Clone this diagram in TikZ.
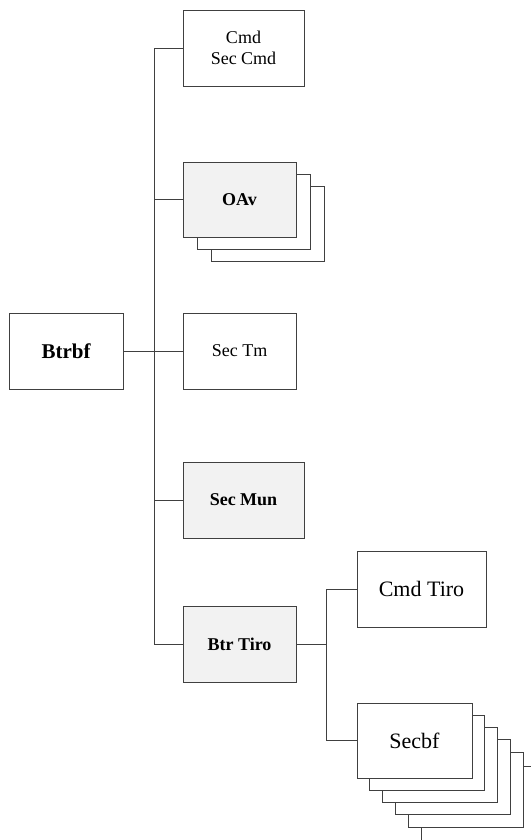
\documentclass[tikz,border=0pt]{standalone}
\usepackage{fontspec}
\setmainfont{Liberation Serif}
\usepackage{tikz}
\definecolor{boxgray}{HTML}{F2F2F2}
\definecolor{linegray}{HTML}{404040}

\begin{document}
\begin{tikzpicture}[x=1pt,y=-1pt,
    unit/.style={draw=linegray, fill=white, line width=0.9pt, inner sep=0pt, outer sep=0pt,
                 minimum width=113pt, minimum height=76pt, align=center,
                 font=\fontsize{18}{21}\selectfont},
    staff/.style={unit, fill=boxgray, font=\fontsize{18}{21}\selectfont\bfseries},
    wire/.style={draw=linegray, line width=0.9pt}]

  \useasboundingbox (0,0) rectangle (531,840);

  % ================= column 1: the head =================
  \node[unit, minimum width=114pt, font=\fontsize{21}{24}\selectfont\bfseries] (root) at (66,351) {Btrbf};

  % ================= column 2: the sections =================
  \node[unit, minimum width=121pt] (cmd) at (243.5,48) {Cmd\\Sec Cmd};

  % ---- OAv: stack of three ----
  \foreach \k in {2,1}
    \node[unit, minimum height=75pt] (oav\k) at (239.5+14*\k,199.5+12*\k) {};
  \node[staff, minimum height=75pt] (oav) at (239.5,199.5) {OAv};

  \node[unit] (sectm) at (239.5,351) {Sec Tm};
  \node[staff, minimum width=121pt] (secmun) at (243.5,500) {Sec Mun};
  \node[staff] (btrtiro) at (239.5,644) {Btr Tiro};

  % ================= column 3: under Btr Tiro =================
  \node[unit, minimum width=129pt, font=\fontsize{22}{26}\selectfont] (cmdtiro) at (421.5,589) {Cmd Tiro};

  % ---- Secbf: stack of five ----
  \foreach \k in {4,3,2,1}
    \node[unit, minimum width=115pt, minimum height=75pt] (secbf\k) at (414.5+12.75*\k,740.5+12.25*\k) {};
  \node[unit, minimum width=115pt, minimum height=75pt, font=\fontsize{22}{26}\selectfont] (secbf) at (414.5,740.5) {Secbf};

  % ================= connectors =================
  \coordinate (trunk) at (154,0);
  \coordinate (fork) at (326,0);
  \draw[wire] (cmd.west) -- (cmd.west -| trunk) -- (btrtiro.west -| trunk) -- (btrtiro.west);
  \foreach \n in {oav,secmun}
    \draw[wire] (\n.west) -- (\n.west -| trunk);
  \draw[wire] (root) -- (sectm);

  \draw[wire] (btrtiro) -- (btrtiro.east -| fork);
  \draw[wire] (cmdtiro.west) -- (cmdtiro.west -| fork) -- (secbf.west -| fork) -- (secbf.west);

  % ---- lines running off the page ----
  \coordinate (outR) at (531,766);
  \coordinate (outB) at (421,840);
  \draw[wire] (secbf4.east |- outR) -- (outR);
  \draw[wire] (secbf4.south -| outB) -- (outB);
\end{tikzpicture}
\end{document}
